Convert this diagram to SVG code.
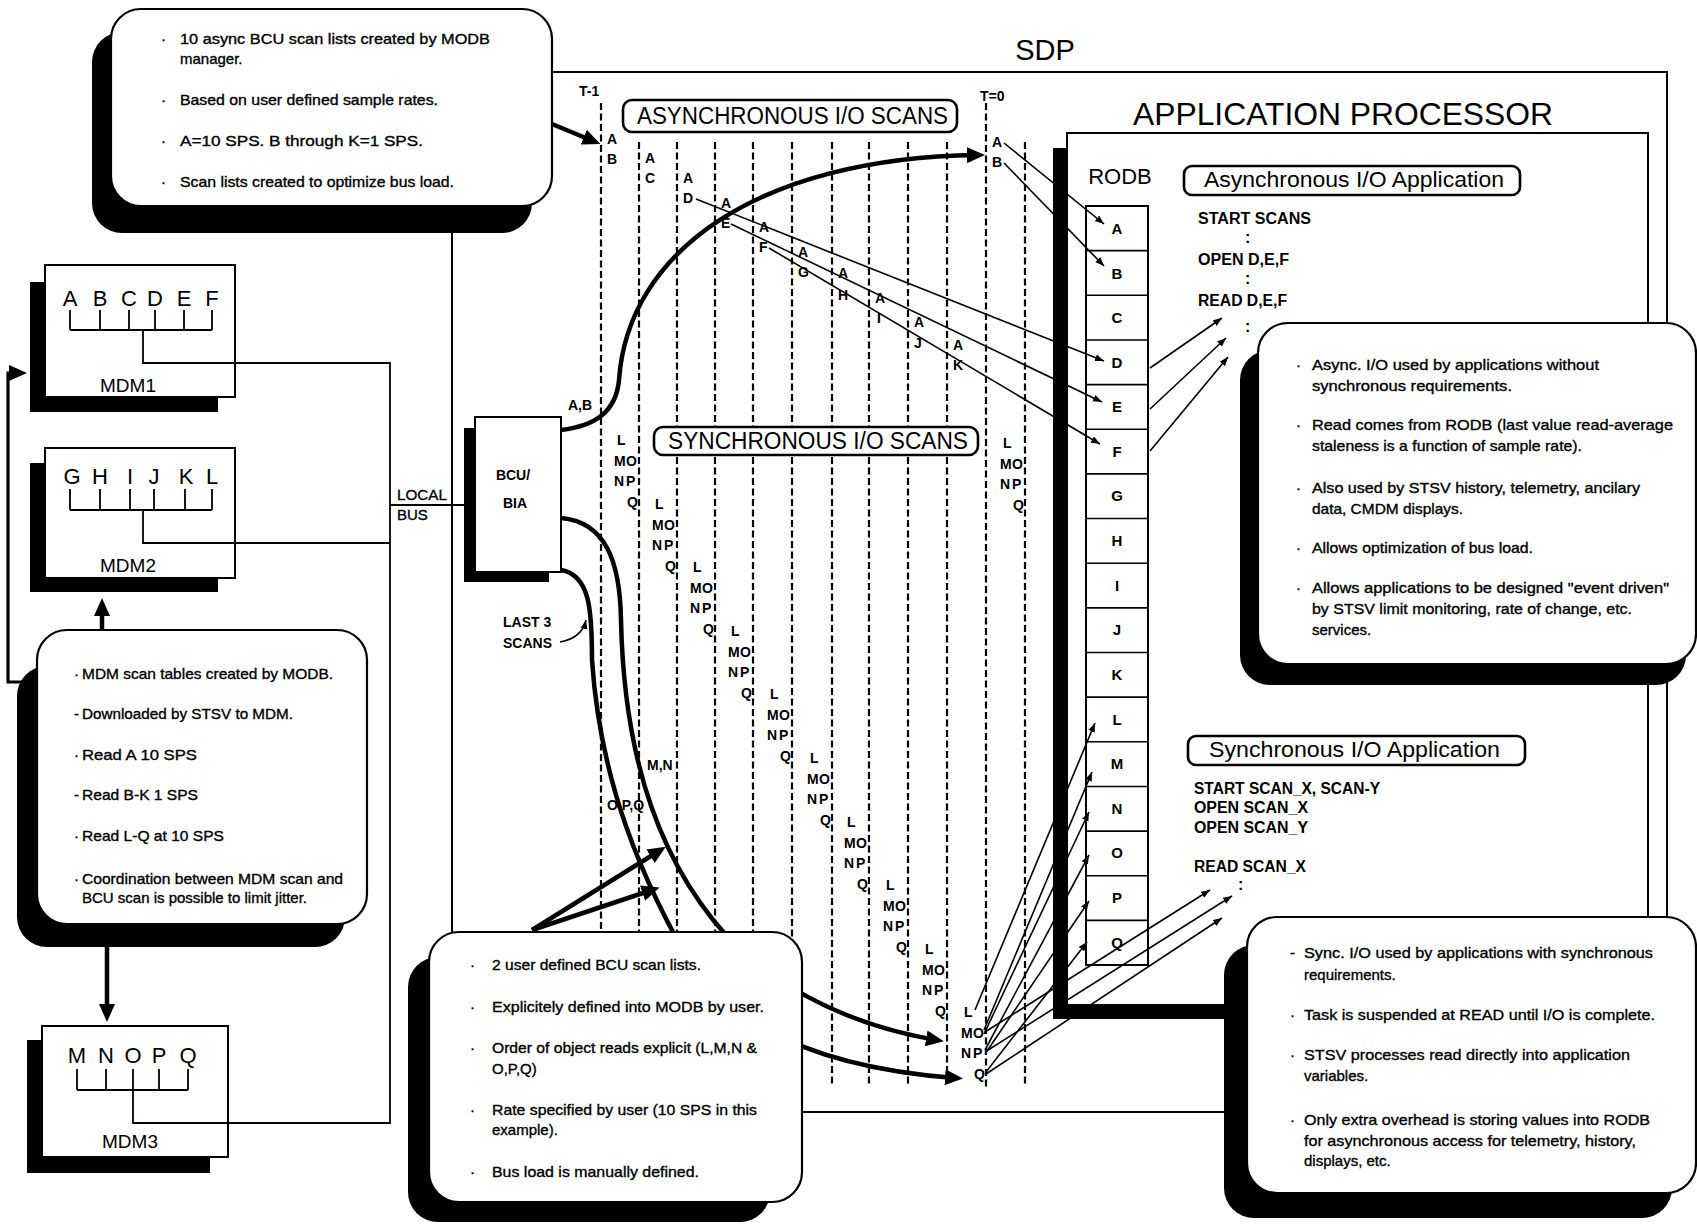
<svg xmlns="http://www.w3.org/2000/svg" width="1697" height="1224" viewBox="0 0 1697 1224">
<defs>
<style>
text{font-family:"Liberation Sans",Arial,Helvetica,sans-serif;fill:#000}
.ln{fill:none;stroke:#000;stroke-width:1.6}
.bus{fill:none;stroke:#000;stroke-width:1.8}
.dash{fill:none;stroke:#000;stroke-width:2.2;stroke-dasharray:7 3.5}
.thk{fill:none;stroke:#000;stroke-width:4.5}
.mid{fill:none;stroke:#000;stroke-width:3.2}
.box{fill:#fff;stroke:#000;stroke-width:2}
.lbl{fill:#fff;stroke:#000;stroke-width:2.6}
.sh{fill:#000}
.cal{fill:#fff;stroke:#000;stroke-width:2.2}
.n{font-size:15px;stroke:#000;stroke-width:0.35}
.k{font-size:14px;font-weight:bold}
.code{font-size:16px;font-weight:bold}
.cell{font-size:15px;font-weight:bold;text-anchor:middle}
.mdm{font-size:22px;text-anchor:middle}
.mdml{font-size:19px;text-anchor:middle}
.ttl{font-size:23px}
</style>
<marker id="ab" markerUnits="userSpaceOnUse" markerWidth="20" markerHeight="16" refX="10" refY="8" orient="auto"><path d="M0,0 L18,8 L0,16 z"/></marker>
<marker id="as" markerUnits="userSpaceOnUse" markerWidth="10" markerHeight="8" refX="9" refY="3.5" orient="auto"><path d="M0,0 L9,3.5 L0,7 z"/></marker>
</defs>
<rect x="0" y="0" width="1697" height="1224" fill="#fff"/>

<g id="sdp">
<rect x="452" y="72" width="1215" height="1040" fill="none" stroke="#000" stroke-width="2"/>
<text x="1045" y="60" font-size="29" text-anchor="middle">SDP</text>
</g>

<g id="app-processor">
<rect class="sh" x="1053" y="148" width="584" height="871"/>
<rect class="box" x="1067" y="133" width="581" height="872"/>
<text x="1133" y="125" font-size="32" textLength="420" lengthAdjust="spacingAndGlyphs">APPLICATION PROCESSOR</text>
<text x="1120" y="184" font-size="22" text-anchor="middle">RODB</text>
<rect class="box" x="1086" y="206" width="62" height="759"/>
<path class="ln" d="M1086,250.65H1148M1086,295.3H1148M1086,339.95H1148M1086,384.6H1148M1086,429.25H1148M1086,473.9H1148M1086,518.55H1148M1086,563.2H1148M1086,607.85H1148M1086,652.5H1148M1086,697.15H1148M1086,741.8H1148M1086,786.45H1148M1086,831.1H1148M1086,875.75H1148M1086,920.4H1148"/>
<text class="cell" x="1117" y="234">A</text>
<text class="cell" x="1117" y="279">B</text>
<text class="cell" x="1117" y="323">C</text>
<text class="cell" x="1117" y="368">D</text>
<text class="cell" x="1117" y="412">E</text>
<text class="cell" x="1117" y="457">F</text>
<text class="cell" x="1117" y="501">G</text>
<text class="cell" x="1117" y="546">H</text>
<text class="cell" x="1117" y="591">I</text>
<text class="cell" x="1117" y="635">J</text>
<text class="cell" x="1117" y="680">K</text>
<text class="cell" x="1117" y="725">L</text>
<text class="cell" x="1117" y="769">M</text>
<text class="cell" x="1117" y="814">N</text>
<text class="cell" x="1117" y="858">O</text>
<text class="cell" x="1117" y="903">P</text>
<text class="cell" x="1117" y="948">Q</text>
<rect class="lbl" x="1184" y="166" width="336" height="29" rx="8"/>
<text x="1204" y="187" font-size="22" textLength="300" lengthAdjust="spacingAndGlyphs">Asynchronous I/O Application</text>
<text class="code" x="1198" y="224" textLength="113" lengthAdjust="spacingAndGlyphs">START SCANS</text>
<text class="code" x="1245" y="243">:</text>
<text class="code" x="1198" y="265" textLength="91" lengthAdjust="spacingAndGlyphs">OPEN D,E,F</text>
<text class="code" x="1245" y="284">:</text>
<text class="code" x="1198" y="306" textLength="89" lengthAdjust="spacingAndGlyphs">READ D,E,F</text>
<text class="code" x="1245" y="332">:</text>
<rect class="lbl" x="1188" y="736" width="337" height="29" rx="8"/>
<text x="1209" y="757" font-size="22" textLength="291" lengthAdjust="spacingAndGlyphs">Synchronous I/O Application</text>
<text class="code" x="1194" y="794" textLength="186" lengthAdjust="spacingAndGlyphs">START SCAN_X, SCAN-Y</text>
<text class="code" x="1194" y="813" textLength="114" lengthAdjust="spacingAndGlyphs">OPEN SCAN_X</text>
<text class="code" x="1194" y="833" textLength="114" lengthAdjust="spacingAndGlyphs">OPEN SCAN_Y</text>
<text class="code" x="1194" y="872" textLength="112" lengthAdjust="spacingAndGlyphs">READ SCAN_X</text>
<text class="code" x="1238" y="890">:</text>
</g>

<g id="scan-timeline">
<path class="dash" d="M601,103V1087M639,142V1087M677,142V1087M715,142V1087M753,142V1087M792,142V1087M832,142V1087M869,142V1087M908,142V1087M947,142V1087M986,103V1087M1025,142V1087"/>
<text class="k" x="579" y="96" font-size="13">T-1</text>
<text class="k" x="980" y="101" font-size="13">T=0</text>
<rect class="lbl" x="623" y="100" width="334" height="32" rx="9"/>
<text class="ttl" x="637" y="124" textLength="311" lengthAdjust="spacingAndGlyphs">ASYNCHRONOUS I/O SCANS</text>
<rect class="lbl" x="654" y="427" width="324" height="28" rx="9"/>
<text class="ttl" x="668" y="449" textLength="300" lengthAdjust="spacingAndGlyphs">SYNCHRONOUS I/O SCANS</text>
<text class="k" x="607" y="144">A</text><text class="k" x="607" y="164">B</text>
<text class="k" x="645" y="163">A</text><text class="k" x="645" y="183">C</text>
<text class="k" x="683" y="183">A</text><text class="k" x="683" y="203">D</text>
<text class="k" x="721" y="208">A</text><text class="k" x="721" y="228">E</text>
<text class="k" x="759" y="232">A</text><text class="k" x="759" y="252">F</text>
<text class="k" x="798" y="257">A</text><text class="k" x="798" y="277">G</text>
<text class="k" x="838" y="278">A</text><text class="k" x="838" y="300">H</text>
<text class="k" x="875" y="303">A</text><text class="k" x="877" y="323">I</text>
<text class="k" x="914" y="327">A</text><text class="k" x="914" y="348">J</text>
<text class="k" x="953" y="350">A</text><text class="k" x="953" y="370">K</text>
<text class="k" x="992" y="147">A</text><text class="k" x="992" y="167">B</text>
<g transform="translate(617,445)"><text class="k" x="0" y="0">L</text><text class="k" x="-3" y="21">M</text><text class="k" x="9" y="21">O</text><text class="k" x="-3" y="41">N</text><text class="k" x="9" y="41">P</text><text class="k" x="10" y="62">Q</text></g>
<g transform="translate(655,508.6)"><text class="k" x="0" y="0">L</text><text class="k" x="-3" y="21">M</text><text class="k" x="9" y="21">O</text><text class="k" x="-3" y="41">N</text><text class="k" x="9" y="41">P</text><text class="k" x="10" y="62">Q</text></g>
<g transform="translate(693,572.2)"><text class="k" x="0" y="0">L</text><text class="k" x="-3" y="21">M</text><text class="k" x="9" y="21">O</text><text class="k" x="-3" y="41">N</text><text class="k" x="9" y="41">P</text><text class="k" x="10" y="62">Q</text></g>
<g transform="translate(731,635.8)"><text class="k" x="0" y="0">L</text><text class="k" x="-3" y="21">M</text><text class="k" x="9" y="21">O</text><text class="k" x="-3" y="41">N</text><text class="k" x="9" y="41">P</text><text class="k" x="10" y="62">Q</text></g>
<g transform="translate(770,699.4)"><text class="k" x="0" y="0">L</text><text class="k" x="-3" y="21">M</text><text class="k" x="9" y="21">O</text><text class="k" x="-3" y="41">N</text><text class="k" x="9" y="41">P</text><text class="k" x="10" y="62">Q</text></g>
<g transform="translate(810,763)"><text class="k" x="0" y="0">L</text><text class="k" x="-3" y="21">M</text><text class="k" x="9" y="21">O</text><text class="k" x="-3" y="41">N</text><text class="k" x="9" y="41">P</text><text class="k" x="10" y="62">Q</text></g>
<g transform="translate(847,826.6)"><text class="k" x="0" y="0">L</text><text class="k" x="-3" y="21">M</text><text class="k" x="9" y="21">O</text><text class="k" x="-3" y="41">N</text><text class="k" x="9" y="41">P</text><text class="k" x="10" y="62">Q</text></g>
<g transform="translate(886,890.2)"><text class="k" x="0" y="0">L</text><text class="k" x="-3" y="21">M</text><text class="k" x="9" y="21">O</text><text class="k" x="-3" y="41">N</text><text class="k" x="9" y="41">P</text><text class="k" x="10" y="62">Q</text></g>
<g transform="translate(925,953.8)"><text class="k" x="0" y="0">L</text><text class="k" x="-3" y="21">M</text><text class="k" x="9" y="21">O</text><text class="k" x="-3" y="41">N</text><text class="k" x="9" y="41">P</text><text class="k" x="10" y="62">Q</text></g>
<g transform="translate(964,1017)"><text class="k" x="0" y="0">L</text><text class="k" x="-3" y="21">M</text><text class="k" x="9" y="21">O</text><text class="k" x="-3" y="41">N</text><text class="k" x="9" y="41">P</text><text class="k" x="10" y="62">Q</text></g>
<g transform="translate(1003,448)"><text class="k" x="0" y="0">L</text><text class="k" x="-3" y="21">M</text><text class="k" x="9" y="21">O</text><text class="k" x="-3" y="41">N</text><text class="k" x="9" y="41">P</text><text class="k" x="10" y="62">Q</text></g>
<text class="k" x="568" y="410" font-size="13">A,B</text>
<text class="k" x="647" y="770" font-size="13">M,N</text>
<text class="k" x="607" y="810" font-size="13">O,P,Q</text>
<text class="k" x="503" y="627" font-size="15">LAST 3</text>
<text class="k" x="503" y="648" font-size="15">SCANS</text>
</g>

<g id="local-bus">
<path class="bus" d="M143,363H390V1123H133M143,543H390M390,505H464"/>
<text class="n" x="397" y="500" textLength="50" lengthAdjust="spacingAndGlyphs">LOCAL</text>
<text class="n" x="397" y="520">BUS</text>
</g>

<g id="mdm1">
<rect class="sh" x="30" y="282" width="188" height="130"/>
<rect class="box" x="45" y="265" width="190" height="132"/>
<text class="mdm" x="70" y="306">A</text><text class="mdm" x="100" y="306">B</text><text class="mdm" x="129" y="306">C</text><text class="mdm" x="155" y="306">D</text><text class="mdm" x="184" y="306">E</text><text class="mdm" x="212" y="306">F</text>
<path class="bus" d="M70,310V330M100,310V330M129,310V330M155,310V330M184,310V330M212,310V330M70,330H212M143,330V363H235"/>
<text class="mdml" x="128" y="392">MDM1</text>
</g>

<g id="mdm2">
<rect class="sh" x="30" y="463" width="188" height="129"/>
<rect class="box" x="45" y="448" width="190" height="130"/>
<text class="mdm" x="72" y="484">G</text><text class="mdm" x="100" y="484">H</text><text class="mdm" x="130" y="484">I</text><text class="mdm" x="154" y="484">J</text><text class="mdm" x="186" y="484">K</text><text class="mdm" x="212" y="484">L</text>
<path class="bus" d="M70,489V510M100,489V510M130,489V510M154,489V510M185,489V510M212,489V510M70,510H212M143,510V543H235"/>
<text class="mdml" x="128" y="572">MDM2</text>
</g>

<g id="mdm3">
<rect class="sh" x="27" y="1040" width="183" height="133"/>
<rect class="box" x="42" y="1026" width="186" height="131"/>
<text class="mdm" x="77" y="1063">M</text><text class="mdm" x="106" y="1063">N</text><text class="mdm" x="133" y="1063">O</text><text class="mdm" x="159" y="1063">P</text><text class="mdm" x="188" y="1063">Q</text>
<path class="bus" d="M77,1069V1090M106,1069V1090M133,1069V1090M159,1069V1090M188,1069V1090M77,1090H188M133,1090V1123H228"/>
<text class="mdml" x="130" y="1148">MDM3</text>
</g>

<g id="bcu-bia">
<rect class="sh" x="464" y="428" width="85" height="154"/>
<rect class="box" x="475" y="417" width="86" height="155"/>
<text class="k" x="513" y="480" font-size="15" text-anchor="middle">BCU/</text>
<text class="k" x="515" y="508" font-size="15" text-anchor="middle">BIA</text>
</g>

<g id="connectors">
<path class="thk" d="M561,430 C595,426 616,412 619,380 C628,250 760,158 977,155" marker-end="url(#ab)"/>
<path class="thk" d="M561,518 C605,522 620,560 621,620 C624,760 660,870 740,950 Q820,1020 936,1040" marker-end="url(#ab)"/>
<path class="thk" d="M561,570 C590,575 592,610 592,660 C600,780 640,880 700,980 Q780,1065 955,1078" marker-end="url(#ab)"/>
<path class="ln" d="M560,642 Q582,638 586,620" marker-end="url(#as)"/>
<path class="thk" d="M552,124 L593,141" marker-end="url(#ab)"/>
<path class="thk" d="M532,930 L659,851" marker-end="url(#ab)"/>
<path class="thk" d="M532,930 L652,890" marker-end="url(#ab)"/>
<path class="thk" d="M102,638 V606" marker-end="url(#ab)"/>
<path class="thk" d="M107,947 V1014" marker-end="url(#ab)"/>
<path class="mid" d="M23,682 H8 V373 H19" marker-end="url(#ab)"/>
<path class="ln" d="M1004,143 L1104,224" marker-end="url(#as)"/>
<path class="ln" d="M1004,163 L1104,266" marker-end="url(#as)"/>
<path class="ln" d="M696,199 L1104,361" marker-end="url(#as)"/>
<path class="ln" d="M731,224 L1102,402" marker-end="url(#as)"/>
<path class="ln" d="M769,248 L1100,444" marker-end="url(#as)"/>
<path class="ln" d="M1150,368 L1222,318" marker-end="url(#as)"/>
<path class="ln" d="M1150,409 L1226,338" marker-end="url(#as)"/>
<path class="ln" d="M1150,451 L1228,357" marker-end="url(#as)"/>
<path class="ln" d="M975,1010 L1095,723" marker-end="url(#as)"/>
<path class="ln" d="M984,1030 L1092,772" marker-end="url(#as)"/>
<path class="ln" d="M984,1034 L1089,812" marker-end="url(#as)"/>
<path class="ln" d="M985,1050 L1089,855" marker-end="url(#as)"/>
<path class="ln" d="M985,1054 L1089,901" marker-end="url(#as)"/>
<path class="ln" d="M986,1072 L1087,942" marker-end="url(#as)"/>
<path class="ln" d="M985,1032 L1210,890" marker-end="url(#as)"/>
<path class="ln" d="M985,1052 L1232,896" marker-end="url(#as)"/>
<path class="ln" d="M986,1074 L1222,918" marker-end="url(#as)"/>
</g>

<g id="app-processor-edge">
<rect class="sh" x="1053" y="148" width="14" height="871"/>
<rect class="sh" x="1053" y="1005" width="584" height="14"/>
</g>

<g id="note-async-lists">
<rect class="sh" x="92" y="32" width="440" height="201" rx="30"/>
<rect class="cal" x="111" y="9" width="441" height="197" rx="30"/>
<text class="n" x="161" y="44">·</text>
<text class="n" x="180" y="44" textLength="310" lengthAdjust="spacingAndGlyphs">10 async BCU scan lists created by MODB</text>
<text class="n" x="180" y="64">manager.</text>
<text class="n" x="161" y="105">·</text>
<text class="n" x="180" y="105" textLength="258" lengthAdjust="spacingAndGlyphs">Based on user defined sample rates.</text>
<text class="n" x="161" y="146">·</text>
<text class="n" x="180" y="146" textLength="243" lengthAdjust="spacingAndGlyphs">A=10 SPS. B through K=1 SPS.</text>
<text class="n" x="161" y="187">·</text>
<text class="n" x="180" y="187" textLength="274" lengthAdjust="spacingAndGlyphs">Scan lists created to optimize bus load.</text>
</g>

<g id="note-mdm-scan">
<rect class="sh" x="17" y="666" width="328" height="281" rx="30"/>
<rect class="cal" x="37" y="630" width="330" height="294" rx="30"/>
<text class="n" x="74" y="679">·</text>
<text class="n" x="82" y="679" textLength="251" lengthAdjust="spacingAndGlyphs">MDM scan tables created by MODB.</text>
<text class="n" x="74" y="719">-</text>
<text class="n" x="82" y="719" textLength="211" lengthAdjust="spacingAndGlyphs">Downloaded by STSV to MDM.</text>
<text class="n" x="74" y="760">·</text>
<text class="n" x="82" y="760" textLength="115" lengthAdjust="spacingAndGlyphs">Read A 10  SPS</text>
<text class="n" x="74" y="800">-</text>
<text class="n" x="82" y="800" textLength="116" lengthAdjust="spacingAndGlyphs">Read B-K 1 SPS</text>
<text class="n" x="74" y="841">·</text>
<text class="n" x="82" y="841" textLength="142" lengthAdjust="spacingAndGlyphs">Read L-Q at 10 SPS</text>
<text class="n" x="74" y="884">·</text>
<text class="n" x="82" y="884" textLength="261" lengthAdjust="spacingAndGlyphs">Coordination between MDM scan and</text>
<text class="n" x="82" y="903" textLength="225" lengthAdjust="spacingAndGlyphs">BCU scan is possible to limit jitter.</text>
</g>

<g id="note-sync-lists">
<rect class="sh" x="408" y="957" width="362" height="265" rx="30"/>
<rect class="cal" x="429" y="932" width="373" height="270" rx="30"/>
<text class="n" x="470" y="970">·</text>
<text class="n" x="492" y="970" textLength="209" lengthAdjust="spacingAndGlyphs">2 user defined BCU scan lists.</text>
<text class="n" x="470" y="1012">·</text>
<text class="n" x="492" y="1012" textLength="272" lengthAdjust="spacingAndGlyphs">Explicitely defined into MODB by user.</text>
<text class="n" x="470" y="1053">·</text>
<text class="n" x="492" y="1053" textLength="265" lengthAdjust="spacingAndGlyphs">Order of object reads explicit (L,M,N &amp;</text>
<text class="n" x="492" y="1074">O,P,Q)</text>
<text class="n" x="470" y="1115">·</text>
<text class="n" x="492" y="1115" textLength="265" lengthAdjust="spacingAndGlyphs">Rate specified by user (10 SPS in this</text>
<text class="n" x="492" y="1135">example).</text>
<text class="n" x="470" y="1177">·</text>
<text class="n" x="492" y="1177" textLength="207" lengthAdjust="spacingAndGlyphs">Bus load is manually defined.</text>
</g>

<g id="note-async-io">
<rect class="sh" x="1240" y="350" width="446" height="335" rx="30"/>
<rect class="cal" x="1258" y="323" width="438" height="341" rx="30"/>
<text class="n" x="1296" y="370">·</text>
<text class="n" x="1312" y="370" textLength="287" lengthAdjust="spacingAndGlyphs">Async. I/O used by applications without</text>
<text class="n" x="1312" y="391" textLength="200" lengthAdjust="spacingAndGlyphs">synchronous requirements.</text>
<text class="n" x="1296" y="430">·</text>
<text class="n" x="1312" y="430" textLength="361" lengthAdjust="spacingAndGlyphs">Read comes from RODB (last value read-average</text>
<text class="n" x="1312" y="451" textLength="270" lengthAdjust="spacingAndGlyphs">staleness is a function of sample rate).</text>
<text class="n" x="1296" y="493">·</text>
<text class="n" x="1312" y="493" textLength="328" lengthAdjust="spacingAndGlyphs">Also used by STSV history, telemetry, ancilary</text>
<text class="n" x="1312" y="514" textLength="151" lengthAdjust="spacingAndGlyphs">data, CMDM displays.</text>
<text class="n" x="1296" y="553">·</text>
<text class="n" x="1312" y="553" textLength="221" lengthAdjust="spacingAndGlyphs">Allows optimization of bus load.</text>
<text class="n" x="1296" y="593">·</text>
<text class="n" x="1312" y="593" textLength="357" lengthAdjust="spacingAndGlyphs">Allows applications to be designed "event driven"</text>
<text class="n" x="1312" y="614" textLength="320" lengthAdjust="spacingAndGlyphs">by STSV limit monitoring, rate of change, etc.</text>
<text class="n" x="1312" y="635">services.</text>
</g>

<g id="note-sync-io">
<rect class="sh" x="1224" y="945" width="448" height="273" rx="30"/>
<rect class="cal" x="1247" y="917" width="449" height="276" rx="30"/>
<text class="n" x="1290" y="958">-</text>
<text class="n" x="1304" y="958" textLength="349" lengthAdjust="spacingAndGlyphs">Sync. I/O used by applications with synchronous</text>
<text class="n" x="1304" y="980">requirements.</text>
<text class="n" x="1290" y="1020">·</text>
<text class="n" x="1304" y="1020" textLength="351" lengthAdjust="spacingAndGlyphs">Task is suspended at READ until I/O is complete.</text>
<text class="n" x="1290" y="1060">·</text>
<text class="n" x="1304" y="1060" textLength="326" lengthAdjust="spacingAndGlyphs">STSV processes read directly into application</text>
<text class="n" x="1304" y="1081">variables.</text>
<text class="n" x="1290" y="1125">·</text>
<text class="n" x="1304" y="1125" textLength="346" lengthAdjust="spacingAndGlyphs">Only extra overhead is storing values into RODB</text>
<text class="n" x="1304" y="1146" textLength="332" lengthAdjust="spacingAndGlyphs">for asynchronous access for telemetry, history,</text>
<text class="n" x="1304" y="1166">displays, etc.</text>
</g>
</svg>
